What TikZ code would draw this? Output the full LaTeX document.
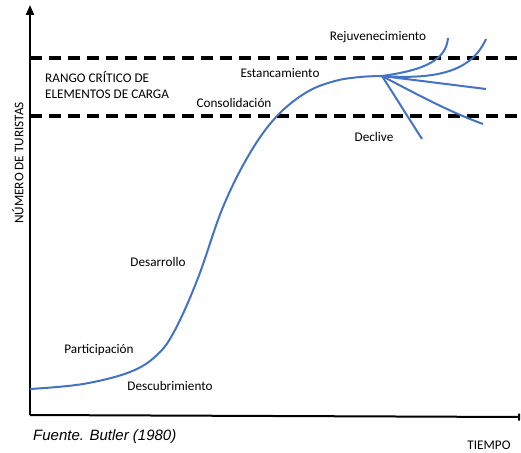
\documentclass[tikz,border=0pt]{standalone}
\usepackage{fontspec}
\setmainfont{Carlito}
\newfontfamily\fuentefont{Liberation Sans}
\usetikzlibrary{positioning, arrows.meta}
\definecolor{curva}{RGB}{68,114,196}

\tikzset{
    etiqueta/.style={font=\fontsize{13.2}{16}\selectfont, inner sep=0pt},
    eje/.style={line width=2pt},
    umbral/.style={line width=3.4pt, dash pattern=on 12pt off 7pt},
    ciclo/.style={line width=2pt, draw=curva},
}

\begin{document}
\begin{tikzpicture}[x=1pt, y=-1pt]
    \useasboundingbox (0,0) rectangle (521,452);
    % Axes
    \coordinate (O) at (30,415);
    \coordinate (ytop) at (30,5);
    \coordinate (xfin) at (520,417);
    \draw [eje, -{Triangle[length=10pt, width=8pt]}] (O) -- (ytop);
    \draw [eje, -{Bar[width=7pt]}] (O) -- (xfin);
    % Carrying capacity band
    \coordinate (s1) at (30,58);
    \coordinate (e1) at (521,58);
    \coordinate (s2) at (30,116);
    \coordinate (e2) at (521,116);
    \draw [umbral] (s1) -- (e1);
    \draw [umbral] (s2) -- (e2);
    % Life cycle curve
    \coordinate (P) at (382,76);
    \draw [ciclo] plot [smooth, tension=0.6] coordinates {(30,389) (83,384) (130,372) (157,355) (175,330) (198,278) (223,207) (250,153) (277,116) (307,92) (335,81) (360,77) (382,76)};
    % Branches after stagnation
    \coordinate (r1) at (448,38);
    \coordinate (r2) at (486,39);
    \coordinate (r3) at (486,89);
    \coordinate (r4) at (483,124);
    \coordinate (r5) at (422,139);
    \draw [ciclo] (P) .. controls (425,70) and (446,60) .. (r1);
    \draw [ciclo] (P) .. controls (440,80) and (472,70) .. (r2);
    \draw [ciclo] (P) -- (r3);
    \draw [ciclo] (P) .. controls (420,96) and (450,112) .. (r4);
    \draw [ciclo] (P) -- (r5);
    % Labels
    \node (rango) [etiqueta, align=left, anchor=west] at (45,85) {RANGO CRÍTICO DE\\ELEMENTOS DE CARGA};
    \node (rejuv) [etiqueta] at (378,37) {Rejuvenecimiento};
    \node (estanc) [etiqueta] at (280,73) {Estancamiento};
    \node (consol) [etiqueta] at (234,103) {Consolidación};
    \node (declive) [etiqueta] at (374,137) {Declive};
    \node (desarr) [etiqueta] at (158,262) {Desarrollo};
    \node (partic) [etiqueta] at (99,350) {Participación};
    \node (descub) [etiqueta] at (170,386) {Descubrimiento};
    \node (turistas) [etiqueta, rotate=90] at (18,163) {NÚMERO DE TURISTAS};
    \node (tiempo) [etiqueta] at (489,445) {TIEMPO};
    \node (fuente) [inner sep=0pt, anchor=west, font=\fuentefont\itshape\fontsize{15}{18}\selectfont] at (33,437) {Fuente. Butler (1980)};
\end{tikzpicture}
\end{document}
